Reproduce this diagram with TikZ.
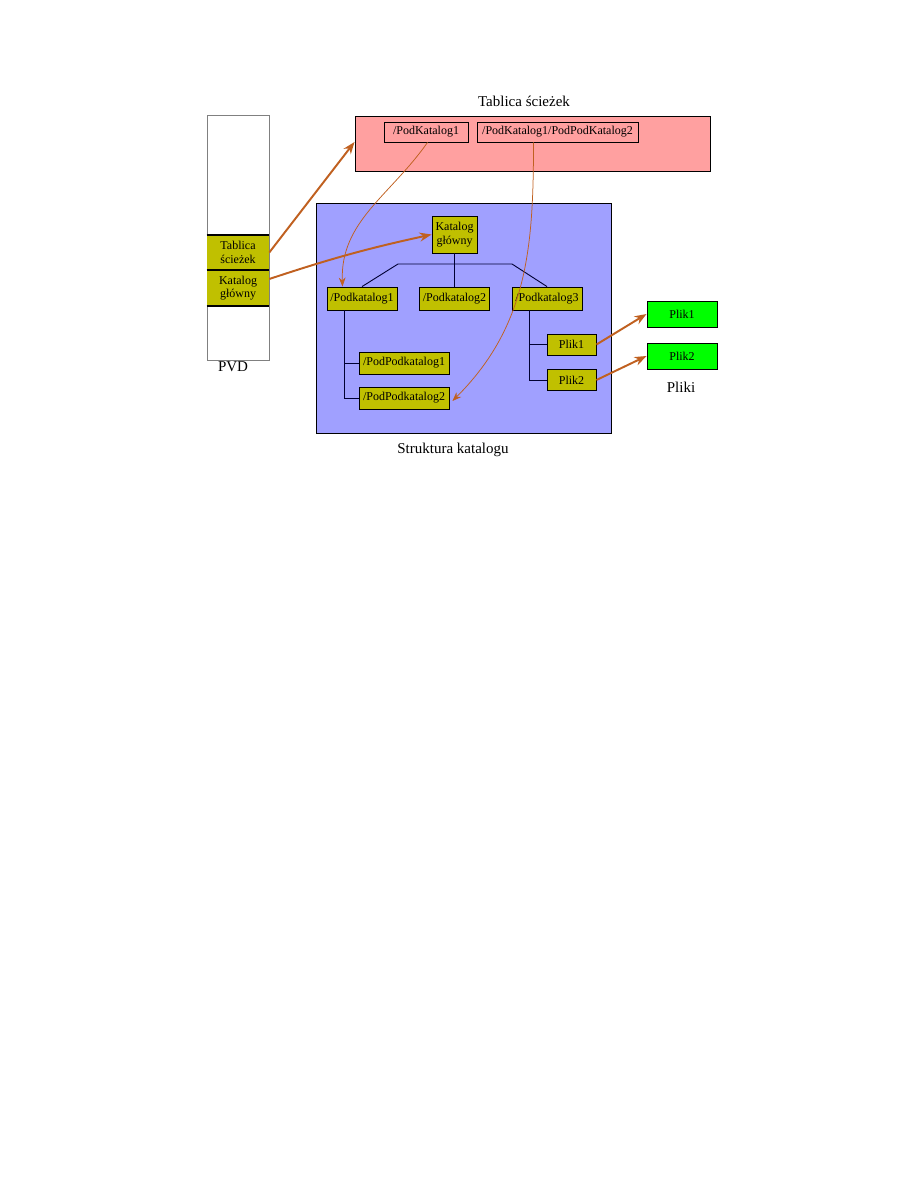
\documentclass[tikz,border=0pt]{standalone}
\usepackage{fontspec}
\setmainfont{Liberation Serif}
\usetikzlibrary{arrows.meta}
\definecolor{oliwka}{RGB}{192,192,0}
\definecolor{roz}{RGB}{255,160,160}
\definecolor{nieb}{RGB}{160,160,255}
\definecolor{ziel}{RGB}{0,255,0}
\definecolor{strz}{RGB}{192,96,32}

\begin{document}
\begin{tikzpicture}[x=0.6667pt, y=-0.6667pt,
    every node/.style={font=\fontsize{8}{9}\selectfont, inner sep=0pt},
    kat/.style={draw=black, fill=oliwka, line width=0.6pt, minimum height=15.3pt},
    plik/.style={draw=black, fill=ziel, line width=0.6pt, minimum width=46.7pt, minimum height=17.3pt},
    opis/.style={font=\fontsize{10}{12}\selectfont},
    gruba/.style={-{Stealth[length=8pt, width=6pt]}, strz, line width=1.3pt},
    cienka/.style={-{Stealth[length=6pt, width=4.5pt]}, strz, line width=0.5pt},
    drzewo/.style={black!80!blue, line width=0.6pt}]
    \useasboundingbox (0,0) rectangle (918,1188);

    % PVD
    \draw[gray] (207,115) rectangle (269,360);
    \node[fill=oliwka, minimum width=41.3pt, minimum height=23.3pt, align=center] (pvdtab) at (238,252.5) {Tablica\\ścieżek};
    \node[fill=oliwka, minimum width=41.3pt, minimum height=24pt, align=center] (pvdkat) at (238,288) {Katalog\\główny};
    \draw[line width=1.6pt] (pvdtab.north west) -- (pvdtab.north east);
    \draw[line width=1.3pt] (pvdtab.south west) -- (pvdtab.south east);
    \draw[line width=1.6pt] (pvdkat.south west) -- (pvdkat.south east);
    \node[opis] (pvd) at (233,367) {PVD};

    % tablica sciezek
    \node[draw=black, fill=roz, line width=0.6pt, minimum width=236.7pt, minimum height=36.7pt] (tablica) at (532.5,143.5) {};
    \node[opis] (tabopis) at (524,101) {Tablica ścieżek};
    \node[draw=black, fill=roz, line width=0.6pt, minimum width=56pt, minimum height=13.3pt] (pk1) at (426,132) {/PodKatalog1};
    \node[draw=black, fill=roz, line width=0.6pt, minimum width=107.3pt, minimum height=13.3pt] (pk12) at (557.5,132) {/PodKatalog1/PodPodKatalog2};

    % struktura katalogu
    \node[draw=black, fill=nieb, line width=0.6pt, minimum width=196.7pt, minimum height=153.3pt] (struktura) at (463.5,318) {};
    \node[opis] (strukopis) at (453,450) {Struktura katalogu};
    \node[kat, minimum width=30pt, minimum height=24.7pt, align=center] (kg) at (454.5,234.5) {Katalog\\główny};
    \node[kat, minimum width=46.7pt] (pod1) at (362,298.5) {/Podkatalog1};
    \node[kat, minimum width=46.7pt] (pod2) at (454.5,298.5) {/Podkatalog2};
    \node[kat, minimum width=46.7pt] (pod3) at (547,298.5) {/Podkatalog3};
    \node[kat, minimum width=60pt, minimum height=14.7pt] (pp1) at (404,363) {/PodPodkatalog1};
    \node[kat, minimum width=60pt, minimum height=14.7pt] (pp2) at (404,398) {/PodPodkatalog2};
    \node[kat, minimum width=32.7pt, minimum height=14pt] (plik1) at (571.5,344.5) {Plik1};
    \node[kat, minimum width=32.7pt, minimum height=14pt] (plik2) at (571.5,380) {Plik2};

    \draw[drzewo] (kg.south) -- (pod2.north);
    \draw[drzewo] (pod1.north) -- (398,264) -- (512,264) -- (pod3.north);
    \draw[drzewo] ([xshift=-12pt]pod1.south) |- (pp1.west);
    \draw[drzewo] ([xshift=-12pt]pod1.south) |- (pp2.west);
    \draw[drzewo] ([xshift=-12pt]pod3.south) |- (plik1.west);
    \draw[drzewo] ([xshift=-12pt]pod3.south) |- (plik2.west);

    % pliki
    \node[plik] (gp1) at (682,314) {Plik1};
    \node[plik] (gp2) at (682,356) {Plik2};
    \node[opis] (pliki) at (681,387) {Pliki};

    % strzalki
    \draw[gruba] (pvdtab.east) -- ([yshift=1pt]tablica.west);
    \draw[gruba] ([yshift=6pt]pvdkat.east) to[bend left=3] (kg.west);
    \draw[gruba] (plik1.east) -- (gp1.west);
    \draw[gruba] (plik2.east) -- (gp2.west);
    \draw[cienka] ([xshift=1pt]pk1.south) to[out=-125, in=92] ([xshift=-13pt]pod1.north);
    \draw[cienka] ([xshift=-16pt]pk12.south) to[out=-90, in=45] ([xshift=2pt,yshift=-2pt]pp2.east);
\end{tikzpicture}
\end{document}
